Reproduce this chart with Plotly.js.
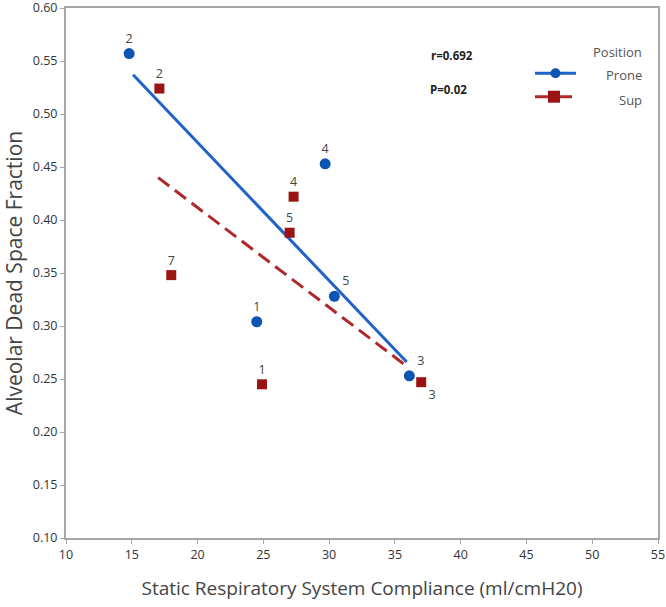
<!DOCTYPE html>
<html>
<head>
<meta charset="utf-8">
<script src="https://cdn.plot.ly/plotly-3.0.1.min.js"></script>
<style>html,body{margin:0;padding:0;background:#fff;}#chart{width:666px;height:607px;}</style>
</head>
<body>
<div id="chart"></div>
<script>
// Prone position
const proneX = [14.8, 29.7, 30.4, 24.5, 36.1];
const proneY = [0.557, 0.453, 0.328, 0.304, 0.253];
const proneLabels = ["2", "4", "5", "1", "3"];
const proneLabelPos = ["top center", "top center", "top right", "top center", "top right"];
// Supine position
const supX = [17.1, 27.3, 27.0, 18.0, 24.9, 37.0];
const supY = [0.524, 0.422, 0.388, 0.348, 0.245, 0.247];
const supLabels = ["2", "4", "5", "7", "1", "3"];
const supLabelPos = ["top center", "top center", "top center", "top center", "top center", "bottom right"];
// Fitted lines (end points)
const proneFitX = [15.1, 35.9];
const proneFitY = [0.537, 0.266];
const supFitX = [17.0, 35.8];
const supFitY = [0.440, 0.263];
// Axis ticks
const xTicks = [10, 15, 20, 25, 30, 35, 40, 45, 50, 55];
const yTicks = [0.10, 0.15, 0.20, 0.25, 0.30, 0.35, 0.40, 0.45, 0.50, 0.55, 0.60];

const blueLine = '#1f63c6', blueMark = '#0d55b3';
const redLine = '#b0282a', redMark = '#9b1313';
const FONT = 'Open Sans, Noto Sans, sans-serif';

// plot-area pixel box
const L = 66, R = 658, T = 8, B = 538;
const px = v => (v - L) / (R - L);
const py = v => (B - v) / (B - T);

const traces = [
  {x: proneFitX, y: proneFitY, mode: 'lines', line: {color: blueLine, width: 3}, showlegend: false, hoverinfo: 'skip'},
  {x: supFitX, y: supFitY, mode: 'lines', line: {color: redLine, width: 3, dash: '14px,7px'}, showlegend: false, hoverinfo: 'skip'},
  {x: proneX, y: proneY, mode: 'markers+text', name: 'Prone', text: proneLabels, textposition: proneLabelPos,
   textfont: {family: FONT, size: 12.5, color: '#444'}, marker: {symbol: 'circle', size: 11, color: blueMark}, showlegend: false, cliponaxis: false},
  {x: supX, y: supY, mode: 'markers+text', name: 'Sup', text: supLabels, textposition: supLabelPos,
   textfont: {family: FONT, size: 12.5, color: '#444'}, marker: {symbol: 'square', size: 10, color: redMark}, showlegend: false, cliponaxis: false}
];

const axisCommon = {
  showline: true, linecolor: '#a6a6a6', linewidth: 2, mirror: true,
  ticks: 'outside', ticklen: 4, tickcolor: '#a6a6a6', tickwidth: 1,
  showgrid: false, zeroline: false, ticklabeloverflow: 'allow',
  tickfont: {family: FONT, size: 12.5, color: '#333'}
};

const layout = {
  width: 666, height: 607,
  margin: {l: L, r: 666 - R, t: T, b: 607 - B},
  paper_bgcolor: '#fff', plot_bgcolor: '#fff',
  showlegend: false,
  xaxis: Object.assign({}, axisCommon, {
    range: [10, 55], tickvals: xTicks, ticktext: xTicks.map(String),
    title: {text: 'Static Respiratory System Compliance (ml/cmH20)', font: {family: FONT, size: 19, color: '#444'}, standoff: 20}
  }),
  yaxis: Object.assign({}, axisCommon, {
    range: [0.10, 0.60], tickvals: yTicks, ticktext: yTicks.map(v => v.toFixed(2)),
    title: {text: 'Alveolar Dead Space Fraction', font: {family: FONT, size: 21, color: '#444'}, standoff: 6}
  }),
  annotations: [
    {xref: 'paper', yref: 'paper', x: px(429), y: py(56), xanchor: 'left', yanchor: 'middle', text: 'r=0.692', showarrow: false, font: {family: FONT, size: 11.5, color: '#222', weight: 'bold'}},
    {xref: 'paper', yref: 'paper', x: px(428), y: py(90), xanchor: 'left', yanchor: 'middle', text: 'P=0.02', showarrow: false, font: {family: FONT, size: 11.5, color: '#222', weight: 'bold'}},
    {xref: 'paper', yref: 'paper', x: px(644), y: py(52), xanchor: 'right', yanchor: 'middle', text: 'Position', showarrow: false, font: {family: FONT, size: 13, color: '#555'}},
    {xref: 'paper', yref: 'paper', x: px(644), y: py(75), xanchor: 'right', yanchor: 'middle', text: 'Prone', showarrow: false, font: {family: FONT, size: 13, color: '#555'}},
    {xref: 'paper', yref: 'paper', x: px(644), y: py(100), xanchor: 'right', yanchor: 'middle', text: 'Sup', showarrow: false, font: {family: FONT, size: 13, color: '#555'}}
  ],
  shapes: [
    {type: 'line', xref: 'paper', yref: 'paper', x0: px(535), x1: px(576), y0: py(73.3), y1: py(73.3), line: {color: blueLine, width: 3}},
    {type: 'circle', xref: 'paper', yref: 'paper', xsizemode: 'pixel', ysizemode: 'pixel', xanchor: px(555.5), yanchor: py(73.3), x0: -5, x1: 5, y0: -5, y1: 5, fillcolor: blueMark, line: {width: 0}},
    {type: 'line', xref: 'paper', yref: 'paper', x0: px(535), x1: px(572), y0: py(96.7), y1: py(96.7), line: {color: redLine, width: 3}},
    {type: 'rect', xref: 'paper', yref: 'paper', xsizemode: 'pixel', ysizemode: 'pixel', xanchor: px(554), yanchor: py(96.7), x0: -6, x1: 6, y0: -6, y1: 6, fillcolor: redMark, line: {width: 0}}
  ]
};

Plotly.newPlot('chart', traces, layout, {staticPlot: true, displayModeBar: false});
</script>
</body>
</html>
